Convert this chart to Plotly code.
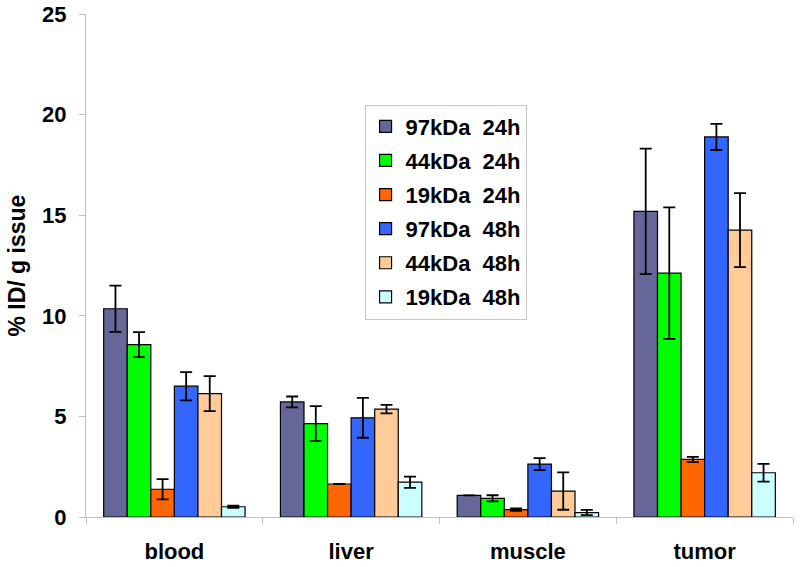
import plotly.graph_objects as go

categories = ["blood", "liver", "muscle", "tumor"]
series_names = ["97kDa  24h", "44kDa  24h", "19kDa  24h", "97kDa  48h", "44kDa  48h", "19kDa  48h"]
colors = ["#666699", "#00FF00", "#FF6600", "#3366FF", "#FFCC99", "#CCFFFF"]

v_97_24 = [10.35, 5.72, 1.07, 15.19]
e_97_24 = [1.15, 0.27, 0.0, 3.12]
v_44_24 = [8.57, 4.64, 0.93, 12.12]
e_44_24 = [0.62, 0.87, 0.15, 3.27]
v_19_24 = [1.38, 1.64, 0.37, 2.86]
e_19_24 = [0.50, 0.0, 0.06, 0.13]
v_97_48 = [6.50, 4.93, 2.63, 18.89]
e_97_48 = [0.70, 0.99, 0.30, 0.65]
v_44_48 = [6.13, 5.36, 1.29, 14.26]
e_44_48 = [0.87, 0.21, 0.93, 1.84]
v_19_48 = [0.51, 1.73, 0.22, 2.20]
e_19_48 = [0.05, 0.28, 0.13, 0.44]

y_title = "% ID/ g issue"

values = [v_97_24, v_44_24, v_19_24, v_97_48, v_44_48, v_19_48]
errors = [e_97_24, e_44_24, e_19_24, e_97_48, e_44_48, e_19_48]

fig = go.Figure()
for i, (name, vals, errs, col) in enumerate(zip(series_names, values, errors, colors)):
    fig.add_trace(go.Bar(
        x=categories, y=vals, name=name,
        marker=dict(color=col, line=dict(color="black", width=1.2)),
        error_y=dict(type="data", array=errs, visible=True, color="black", thickness=1.8, width=6),
        legendgroup=f"g{i}",
    ))

font_family = "Liberation Sans, Arial, sans-serif"
fig.update_layout(
    width=800, height=567,
    margin=dict(l=86, r=7, t=14, b=50),
    barmode="group", bargap=0.2, bargroupgap=0,
    plot_bgcolor="white", paper_bgcolor="white",
    font=dict(family=font_family, color="black"),
    showlegend=True,
    legend=dict(
        x=0.394, y=0.82, xanchor="left", yanchor="top",
        bgcolor="white", bordercolor="#c8c8c8", borderwidth=1,
        font=dict(size=22, family=font_family, color="black", weight="bold"),
        tracegroupgap=2.5,
        itemwidth=30,
    ),
    yaxis=dict(
        range=[0, 25], dtick=5, showgrid=False, automargin=False,
        showline=True, linecolor="#c0c0c0", linewidth=1,
        ticks="outside", tickcolor="#c0c0c0", ticklen=6,
        ticklabelstandoff=8,
        tickfont=dict(size=22, family=font_family, weight="bold"),
        zeroline=False,
    ),
    xaxis=dict(
        automargin=False,
        showline=True, linecolor="#c0c0c0", linewidth=1,
        ticks="outside", tickson="boundaries", tickcolor="#c0c0c0", ticklen=6,
        ticklabelstandoff=15,
        tickfont=dict(size=22, family=font_family, weight="bold"),
        showgrid=False,
    ),
    annotations=[dict(
        text=y_title, xref="paper", yref="paper",
        x=(16 - 86) / 707, y=0.5, xanchor="center", yanchor="middle",
        textangle=-90, showarrow=False,
        font=dict(size=23, family=font_family, weight="bold", color="black"),
    )],
)

fig.write_html("out.html", config={"displayModeBar": False},
               post_script="document.body.style.margin='0';")
